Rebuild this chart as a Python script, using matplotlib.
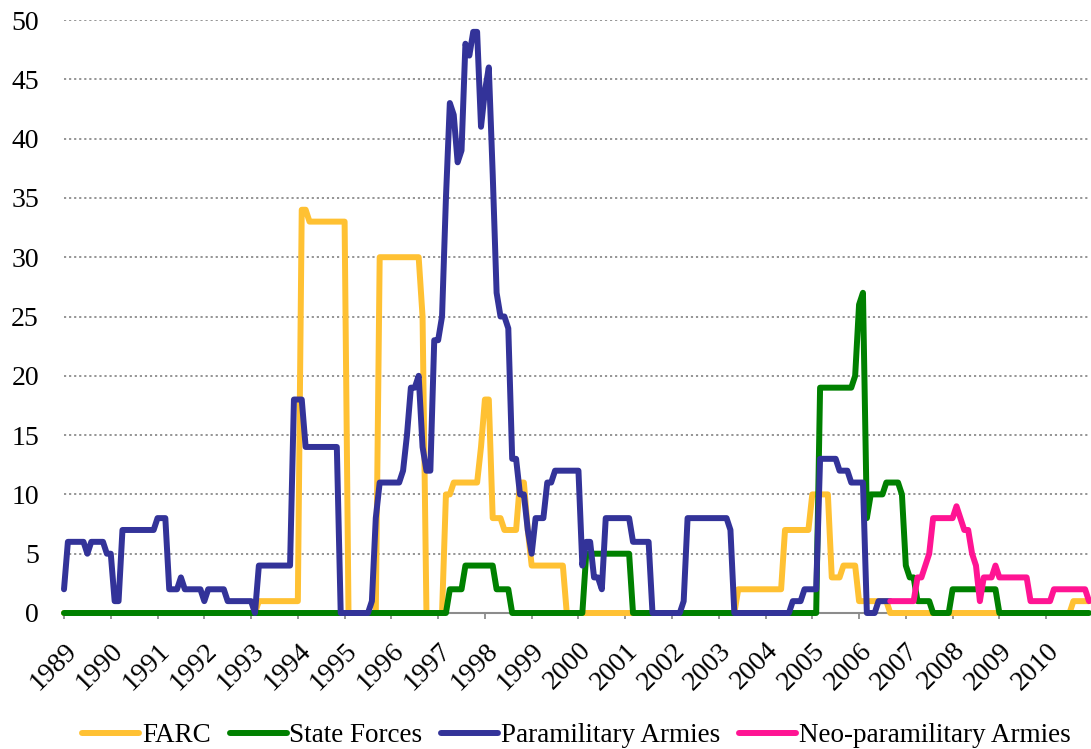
import numpy as np
import matplotlib as mpl
mpl.use('Agg')
import matplotlib.pyplot as plt
from matplotlib.transforms import ScaledTranslation

# monthly values, Jan 1989 .. Dec 2010 (one row per year)
years = list(range(1989, 2011))

farc = [
    0, 0, 0, 0, 0, 0, 0, 0, 0, 0, 0, 0,            # 1989
    0, 0, 0, 0, 0, 0, 0, 0, 0, 0, 0, 0,            # 1990
    0, 0, 0, 0, 0, 0, 0, 0, 0, 0, 0, 0,            # 1991
    0, 0, 0, 0, 0, 0, 0, 0, 0, 0, 0, 0,            # 1992
    0, 0, 1, 1, 1, 1, 1, 1, 1, 1, 1, 1,            # 1993
    1, 34, 34, 33, 33, 33, 33, 33, 33, 33, 33, 33,  # 1994
    33, 0, 0, 0, 0, 0, 0, 0, 0, 30, 30, 30,        # 1995
    30, 30, 30, 30, 30, 30, 30, 30, 25, 0, 0, 0,   # 1996
    0, 0, 10, 10, 11, 11, 11, 11, 11, 11, 11, 14,  # 1997
    18, 18, 8, 8, 8, 7, 7, 7, 7, 11, 11, 7,        # 1998
    4, 4, 4, 4, 4, 4, 4, 4, 4, 0, 0, 0,            # 1999
    0, 0, 0, 0, 0, 0, 0, 0, 0, 0, 0, 0,            # 2000
    0, 0, 0, 0, 0, 0, 0, 0, 0, 0, 0, 0,            # 2001
    0, 0, 0, 0, 0, 0, 0, 0, 0, 0, 0, 0,            # 2002
    0, 0, 0, 0, 0, 2, 2, 2, 2, 2, 2, 2,            # 2003
    2, 2, 2, 2, 2, 7, 7, 7, 7, 7, 7, 7,            # 2004
    10, 10, 10, 10, 10, 3, 3, 3, 4, 4, 4, 4,       # 2005
    1, 1, 1, 1, 1, 1, 1, 1, 0, 0, 0, 0,            # 2006
    0, 0, 0, 0, 0, 0, 0, 0, 0, 0, 0, 0,            # 2007
    0, 0, 0, 0, 0, 0, 0, 0, 0, 0, 0, 0,            # 2008
    0, 0, 0, 0, 0, 0, 0, 0, 0, 0, 0, 0,            # 2009
    0, 0, 0, 0, 0, 0, 0, 1, 1, 1, 1, 1,            # 2010
]

state = [
    0, 0, 0, 0, 0, 0, 0, 0, 0, 0, 0, 0,            # 1989
    0, 0, 0, 0, 0, 0, 0, 0, 0, 0, 0, 0,            # 1990
    0, 0, 0, 0, 0, 0, 0, 0, 0, 0, 0, 0,            # 1991
    0, 0, 0, 0, 0, 0, 0, 0, 0, 0, 0, 0,            # 1992
    0, 0, 0, 0, 0, 0, 0, 0, 0, 0, 0, 0,            # 1993
    0, 0, 0, 0, 0, 0, 0, 0, 0, 0, 0, 0,            # 1994
    0, 0, 0, 0, 0, 0, 0, 0, 0, 0, 0, 0,            # 1995
    0, 0, 0, 0, 0, 0, 0, 0, 0, 0, 0, 0,            # 1996
    0, 0, 0, 2, 2, 2, 2, 4, 4, 4, 4, 4,            # 1997
    4, 4, 4, 2, 2, 2, 2, 0, 0, 0, 0, 0,            # 1998
    0, 0, 0, 0, 0, 0, 0, 0, 0, 0, 0, 0,            # 1999
    0, 0, 5, 5, 5, 5, 5, 5, 5, 5, 5, 5,            # 2000
    5, 5, 0, 0, 0, 0, 0, 0, 0, 0, 0, 0,            # 2001
    0, 0, 0, 0, 0, 0, 0, 0, 0, 0, 0, 0,            # 2002
    0, 0, 0, 0, 0, 0, 0, 0, 0, 0, 0, 0,            # 2003
    0, 0, 0, 0, 0, 0, 0, 0, 0, 0, 0, 0,            # 2004
    0, 0, 19, 19, 19, 19, 19, 19, 19, 19, 19, 20,  # 2005
    26, 27, 8, 10, 10, 10, 10, 11, 11, 11, 11, 10, # 2006
    4, 3, 3, 1, 1, 1, 1, 0, 0, 0, 0, 0,            # 2007
    2, 2, 2, 2, 2, 2, 2, 2, 2, 2, 2, 2,            # 2008
    0, 0, 0, 0, 0, 0, 0, 0, 0, 0, 0, 0,            # 2009
    0, 0, 0, 0, 0, 0, 0, 0, 0, 0, 0, 0,            # 2010
]

N = None
para = [
    2, 6, 6, 6, 6, 6, 5, 6, 6, 6, 6, 5,            # 1989
    5, 1, 1, 7, 7, 7, 7, 7, 7, 7, 7, 7,            # 1990
    8, 8, 8, 2, 2, 2, 3, 2, 2, 2, 2, 2,            # 1991
    1, 2, 2, 2, 2, 2, 1, 1, 1, 1, 1, 1,            # 1992
    1, 0, 4, 4, 4, 4, 4, 4, 4, 4, 4, 18,           # 1993
    18, 18, 14, 14, 14, 14, 14, 14, 14, 14, 14, 0, # 1994
    0, 0, 0, 0, 0, 0, 0, 1, 8, 11, 11, 11,         # 1995
    11, 11, 11, 12, 15, 19, 19, 20, 14, 12, 12, 23,  # 1996
    23, 25, 35, 43, 42, 38, 39, 48, 47, 49, 49, 41,  # 1997
    44, 46, 37, 27, 25, 25, 24, 13, 13, 10, 10, 7,   # 1998
    5, 8, 8, 8, 11, 11, 12, 12, 12, 12, 12, 12,      # 1999
    12, 4, 6, 6, 3, 3, 2, 8, 8, 8, 8, 8,             # 2000
    8, 8, 6, 6, 6, 6, 6, 0, 0, 0, 0, 0,              # 2001
    0, 0, 0, 1, 8, 8, 8, 8, 8, 8, 8, 8,              # 2002
    8, 8, 8, 7, 0, 0, 0, 0, 0, 0, 0, 0,              # 2003
    0, 0, 0, 0, 0, 0, 0, 1, 1, 1, 2, 2,              # 2004
    2, 2, 13, 13, 13, 13, 13, 12, 12, 12, 11, 11,    # 2005
    11, 11, 0, 0, 0, 1, 1, 1, 1, N, N, N,            # 2006
    N, N, N, N, N, N, N, N, N, N, N, N,              # 2007
    N, N, N, N, N, N, N, N, N, N, N, N,              # 2008
    N, N, N, N, N, N, N, N, N, N, N, N,              # 2009
    N, N, N, N, N, N, N, N, N, N, N, N,              # 2010
]

neo = [N] * (17 * 12 + 8) + [
    1, 1, 1, 1,                                    # 2006 (Sep-Dec)
    1, 1, 1, 3, 3, 4, 5, 8, 8, 8, 8, 8,            # 2007
    8, 9, 8, 7, 7, 5, 4, 1, 3, 3, 3, 4,            # 2008
    3, 3, 3, 3, 3, 3, 3, 3, 1, 1, 1, 1,            # 2009
    1, 1, 2, 2, 2, 2, 2, 2, 2, 2, 2, 1,            # 2010
]

names = ['FARC', 'State Forces', 'Paramilitary Armies', 'Neo-paramilitary Armies']
colors = ['#FFC133', '#008000', '#333399', '#FF1493']

mpl.rc('font', family='Liberation Serif', size=20)

W, H = 1091, 749
fig = plt.figure(figsize=(W/100., H/100.), dpi=100)
ax = fig.add_axes([64./W, 1-613./H, (1089.-64.)/W, (613.-20.)/H])

months = np.arange(len(farc))
for i, vals in enumerate([farc, state, para, neo]):
    ax.plot(months, np.array(vals, dtype=float), color=colors[i], lw=4.3,
            label=names[i], solid_joinstyle='round', solid_capstyle='round',
            clip_on=False, zorder=3+i)

ax.set_xlim(0, len(farc)-1)
ax.set_ylim(0, 50)
ax.set_yticks(range(0, 51, 5))
ax.yaxis.grid(True, ls=(0, (1.2, 1.6)), color='#8c8c8c', lw=1.3)
ax.set_axisbelow(True)

ax.set_xticks(np.arange(len(years))*12)
ax.set_xticklabels([str(y) for y in years], rotation=45, ha='right', va='top',
                   rotation_mode='anchor', fontsize=20)
shift = ScaledTranslation(0.04, 0, fig.dpi_scale_trans)
for lab in ax.get_xticklabels():
    lab.set_transform(lab.get_transform() + shift)
for s in ['top', 'right', 'left']:
    ax.spines[s].set_visible(False)
ax.spines['bottom'].set_color('#8c8c8c')
ax.spines['bottom'].set_linewidth(1.5)
ax.tick_params(axis='x', length=4.5, width=1.3, color='#8c8c8c', pad=13.5)
ax.tick_params(axis='y', length=0, pad=18)

ax.legend(loc='center', bbox_to_anchor=(0.5, -0.207), ncol=4, frameon=False,
          fontsize=19.5, handlelength=2.1, handletextpad=0.1, columnspacing=0.7)

fig.savefig('out.png', dpi=100)
